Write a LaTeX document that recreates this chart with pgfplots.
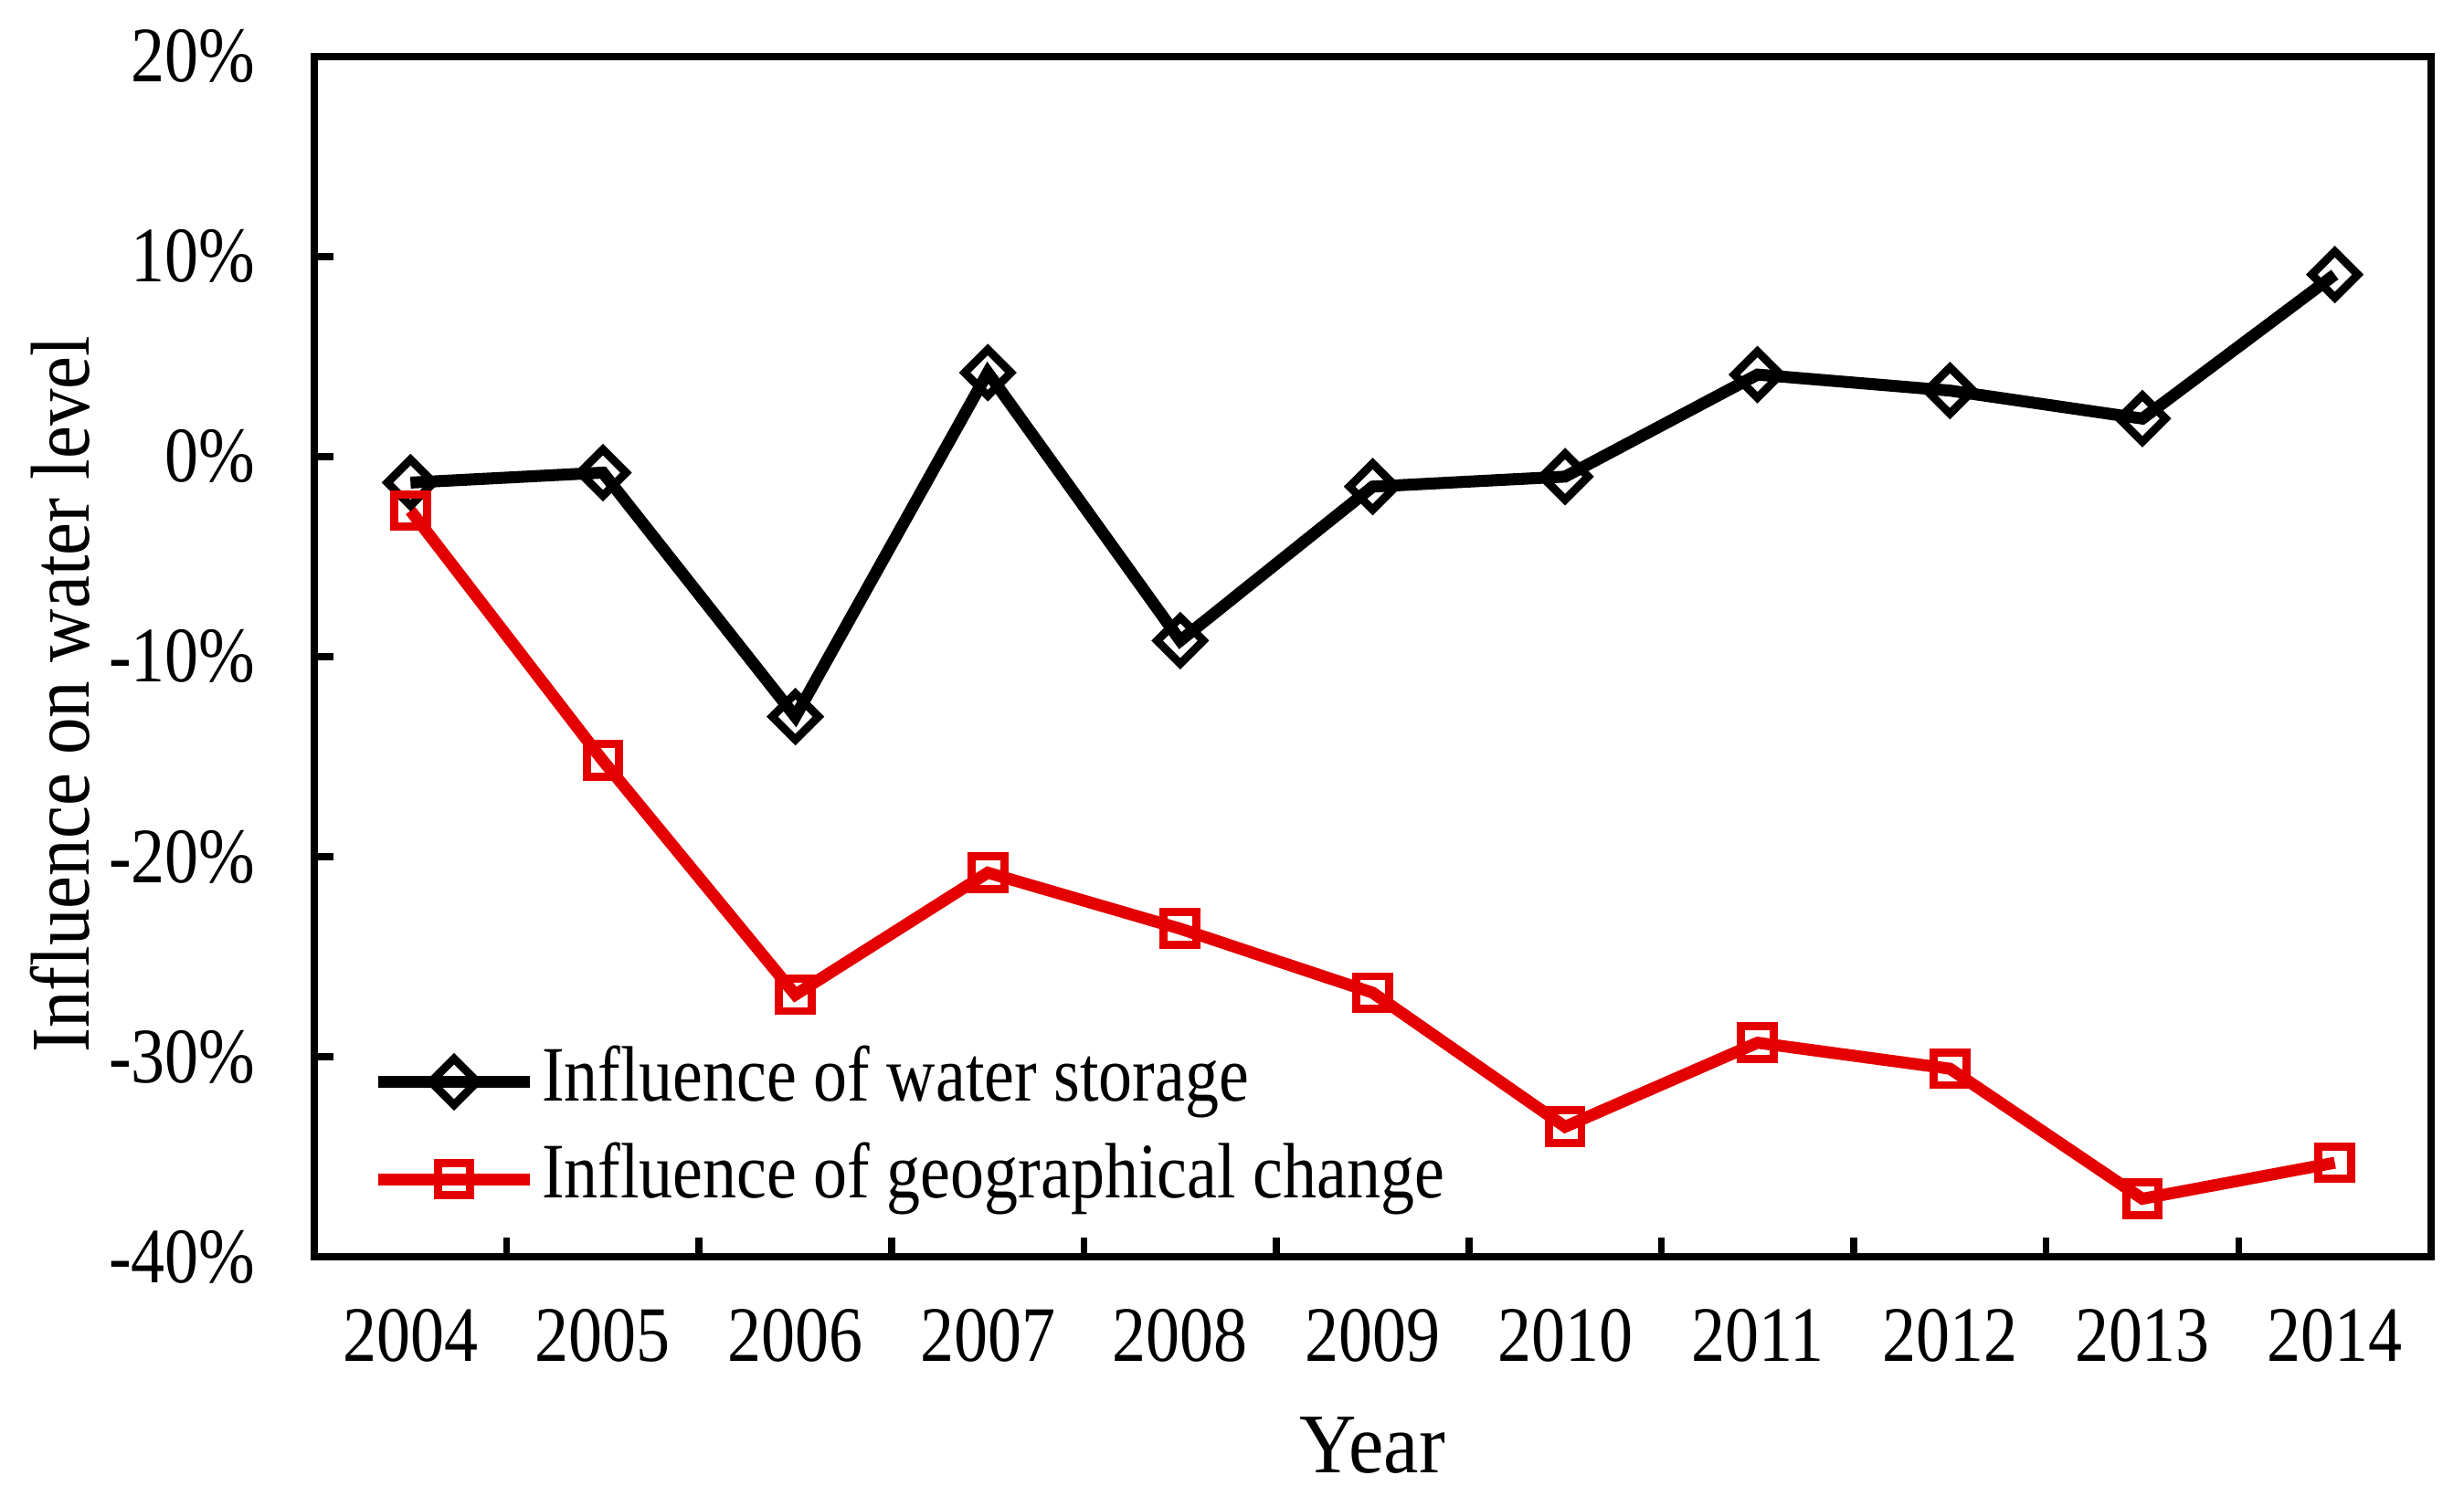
\documentclass[border=0pt]{standalone}
\usepackage{fontspec}
\setmainfont{Liberation Serif}[FakeStretch=0.86]
\newfontfamily\labelfont{Liberation Serif}[FakeStretch=0.93]
\newfontfamily\ylabfont{Liberation Serif}[FakeStretch=0.885]
\usepackage{pgfplots}
\pgfplotsset{compat=1.18}
\definecolor{geored}{RGB}{228,0,0}

\begin{document}
\fontsize{12.5}{15}\selectfont
\begin{tikzpicture}
\begin{axis}[
  scale only axis,
  width=336.75pt, height=191pt,
  xmin=-0.5, xmax=10.5,
  ymin=-40, ymax=20,
  axis line style={line width=1.1pt},
  xtick={0,...,10},
  xticklabels={2004,2005,2006,2007,2008,2009,2010,2011,2012,2013,2014},
  major x tick style={draw=none},
  minor xtick={0.5,1.5,...,9.5},
  minor tick length=3pt,
  minor x tick style={line width=1.1pt,black},
  ytick={-40,-30,-20,-10,0,10,20},
  yticklabels={-40\%,-30\%,-20\%,-10\%,0\%,10\%,20\%},
  major tick length=3pt,
  major y tick style={line width=1.1pt,black},
  tick align=inside,
  xtick pos=bottom, ytick pos=left,
  xticklabel style={yshift=-4pt},
  yticklabel style={xshift=-5pt},
  xlabel={Year},
  ylabel={Influence on water level},
  xlabel style={at={(axis description cs:0.5,-0.157)},anchor=center,font=\labelfont\fontsize{13.5}{15}\selectfont},
  ylabel style={at={(axis description cs:-0.1203,0.4686)},anchor=center,font=\ylabfont\fontsize{13.3}{15}\selectfont},
  legend style={at={(axis description cs:0.027,0.1835)},anchor=north west,
    draw=none,fill=none,inner sep=0pt,row sep=1.5pt,
    nodes={inner sep=1pt,text height=9pt,text depth=3pt}},
  legend cell align=left,
  legend image code/.code={\draw[mark repeat=2,mark phase=2,#1] plot coordinates {(0pt,0pt) (12pt,0pt) (24pt,0pt)};},
]
\addplot[black,line width=1.9pt,mark=square,mark size=2.6pt,
  mark options={rotate=45,fill=white,line width=1.3pt,solid}]
  coordinates {(0,-1.3) (1,-0.8) (2,-13.0) (3,4.2) (4,-9.2) (5,-1.5) (6,-1.0) (7,4.1) (8,3.3) (9,1.9) (10,9.1)};
\addlegendentry{Influence of water storage}
\addplot[geored,line width=1.9pt,mark=square,mark size=2.6pt,
  mark options={fill=white,line width=1.3pt,solid}]
  coordinates {(0,-2.7) (1,-15.2) (2,-26.9) (3,-20.8) (4,-23.6) (5,-26.8) (6,-33.5) (7,-29.3) (8,-30.6) (9,-37.1) (10,-35.3)};
\addlegendentry{Influence of geographical change}
\end{axis}
\path (current axis.south west) ++(-50pt,-39.8pt) (current axis.north east) ++(5.25pt,9pt);
\end{tikzpicture}
\end{document}
